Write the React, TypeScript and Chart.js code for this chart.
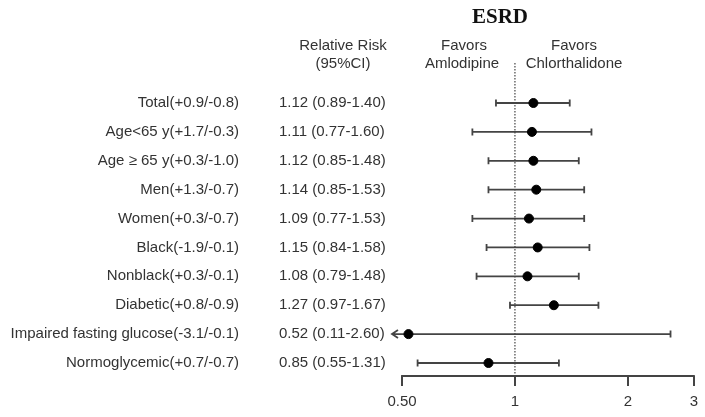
import React, { useEffect, useRef } from "react";
import { Chart, registerables } from "chart.js";

Chart.register(...registerables);

const rowLabels = [
  "Total(+0.9/-0.8)",
  "Age<65 y(+1.7/-0.3)",
  "Age \u2265 65 y(+0.3/-1.0)",
  "Men(+1.3/-0.7)",
  "Women(+0.3/-0.7)",
  "Black(-1.9/-0.1)",
  "Nonblack(+0.3/-0.1)",
  "Diabetic(+0.8/-0.9)",
  "Impaired fasting glucose(-3.1/-0.1)",
  "Normoglycemic(+0.7/-0.7)",
];
const relRisk = [1.12, 1.11, 1.12, 1.14, 1.09, 1.15, 1.08, 1.27, 0.52, 0.85];
const lowerCI = [0.89, 0.77, 0.85, 0.85, 0.77, 0.84, 0.79, 0.97, 0.11, 0.55];
const upperCI = [1.4, 1.6, 1.48, 1.53, 1.53, 1.58, 1.48, 1.67, 2.6, 1.31];
const tickValues = [0.5, 1, 2, 3];
const tickLabels = ["0.50", "1", "2", "3"];
const chartTitle = "ESRD";
const headerRR = ["Relative Risk", "(95%CI)"];
const headerLeft = ["Favors", "Amlodipine"];
const headerRight = ["Favors", "Chlorthalidone"];

const TEXT = "#333";
const LINE = "#444";
const FONT = '"Liberation Sans", Arial, sans-serif';

const forestPlugin = {
  id: "forest",
  beforeDatasetsDraw(chart: any) {
    const { ctx, chartArea, scales } = chart;
    const xs = scales.x;
    const ys = scales.y;
    ctx.save();
    // reference dotted line at 1
    const x1 = xs.getPixelForValue(1);
    ctx.strokeStyle = "#444";
    ctx.lineWidth = 1.2;
    ctx.setLineDash([1.5, 1.5]);
    ctx.beginPath();
    ctx.moveTo(x1, chartArea.top);
    ctx.lineTo(x1, chartArea.bottom);
    ctx.stroke();
    ctx.setLineDash([]);
    // axis line
    ctx.strokeStyle = LINE;
    ctx.lineWidth = 2;
    ctx.beginPath();
    ctx.moveTo(xs.getPixelForValue(tickValues[0]) - 1, chartArea.bottom);
    ctx.lineTo(xs.getPixelForValue(tickValues[tickValues.length - 1]) + 1, chartArea.bottom);
    ctx.stroke();
    // error bars
    ctx.lineWidth = 1.8;
    for (let i = 0; i < relRisk.length; i++) {
      const y = ys.getPixelForValue(i);
      const clipped = lowerCI[i] < xs.min;
      const xl = clipped ? chartArea.left : xs.getPixelForValue(lowerCI[i]);
      const xu = xs.getPixelForValue(upperCI[i]);
      ctx.beginPath();
      ctx.moveTo(xl, y);
      ctx.lineTo(xu, y);
      ctx.moveTo(xu, y - 3.5);
      ctx.lineTo(xu, y + 3.5);
      if (clipped) {
        ctx.moveTo(xl + 6, y - 4);
        ctx.lineTo(xl, y);
        ctx.lineTo(xl + 6, y + 4);
      } else {
        ctx.moveTo(xl, y - 3.5);
        ctx.lineTo(xl, y + 3.5);
      }
      ctx.stroke();
    }
    ctx.restore();
  },
  afterDraw(chart: any) {
    const { ctx, scales } = chart;
    const ys = scales.y;
    ctx.save();
    ctx.fillStyle = "#111";
    ctx.textBaseline = "middle";
    ctx.textAlign = "center";
    ctx.font = 'bold 21px "Liberation Serif", "Times New Roman", serif';
    ctx.fillText(chartTitle, 500, 18);
    ctx.fillStyle = TEXT;
    ctx.font = `15px ${FONT}`;
    ctx.fillText(headerRR[0], 343, 46);
    ctx.fillText(headerRR[1], 343, 64);
    ctx.fillText(headerLeft[0], 464, 46);
    ctx.fillText(headerLeft[1], 462, 64);
    ctx.fillText(headerRight[0], 574, 46);
    ctx.fillText(headerRight[1], 574, 64);
    for (let i = 0; i < rowLabels.length; i++) {
      const y = ys.getPixelForValue(i);
      ctx.textAlign = "right";
      ctx.fillText(rowLabels[i], 239, y);
      ctx.textAlign = "left";
      ctx.fillText(
        `${relRisk[i].toFixed(2)} (${lowerCI[i].toFixed(2)}-${upperCI[i].toFixed(2)})`,
        279,
        y
      );
    }
    ctx.restore();
  },
};

export default function App() {
  const ref = useRef<HTMLCanvasElement>(null);
  useEffect(() => {
    document.body.style.margin = "0";
    const canvas = ref.current;
    if (!canvas) return;
    const chart = new Chart(canvas, {
      type: "scatter",
      data: {
        datasets: [
          {
            data: relRisk.map((v, i) => ({ x: v, y: i })),
            backgroundColor: "#000",
            borderColor: "#000",
            pointRadius: 4.5,
            pointHoverRadius: 4.5,
          },
        ],
      },
      options: {
        responsive: false,
        devicePixelRatio: 1,
        animation: false,
        events: [],
        layout: { padding: { left: 392, right: 11, top: 63, bottom: 5 } },
        plugins: { legend: { display: false }, tooltip: { enabled: false }, title: { display: false } },
        scales: {
          x: {
            type: "logarithmic",
            min: 0.47,
            max: 3,
            border: { display: false },
            grid: {
              display: true,
              drawOnChartArea: false,
              drawTicks: true,
              tickLength: 10,
              color: LINE,
              lineWidth: 2,
            },
            afterBuildTicks: (scale: any) => {
              scale.ticks = tickValues.map((v) => ({ value: v }));
            },
            afterFit: (scale: any) => {
              scale.height = 36;
            },
            ticks: {
              autoSkip: false,
              maxRotation: 0,
              padding: 7,
              color: TEXT,
              font: { family: FONT, size: 15 },
              callback: (_v: any, idx: number) => tickLabels[idx],
            },
          },
          y: {
            type: "linear",
            display: false,
            reverse: true,
            min: -1.385,
            max: 9.45,
          },
        },
      },
      plugins: [forestPlugin],
    });
    return () => chart.destroy();
  }, []);
  return (
    <div style={{ width: 705, height: 417, background: "#fff" }}>
      <canvas ref={ref} width={705} height={417} />
    </div>
  );
}
